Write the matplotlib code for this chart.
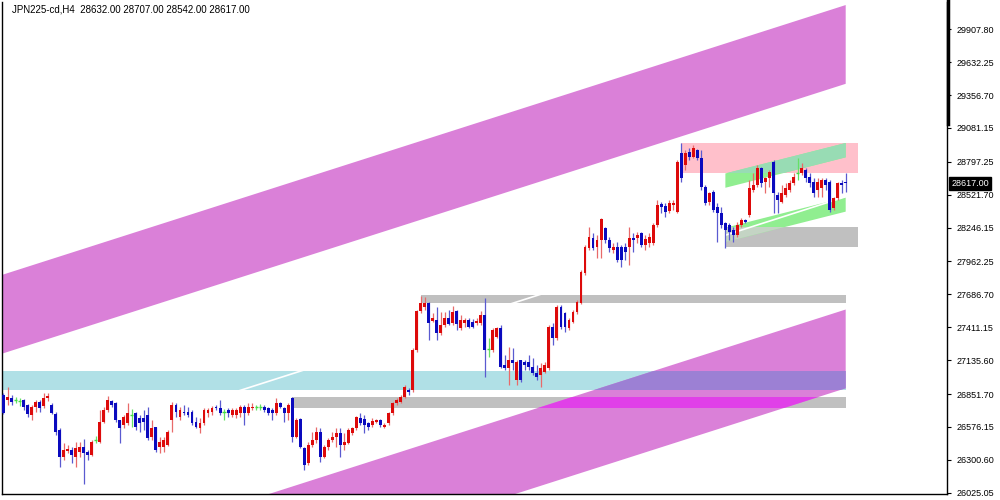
import matplotlib
matplotlib.use('Agg')
import matplotlib.pyplot as plt
from matplotlib.patches import Polygon, Rectangle
from matplotlib.lines import Line2D
import numpy as np

header = 'JPN225-cd,H4  28632.00 28707.00 28542.00 28617.00'

# H4 candles, oldest first
opens = [
    26843, 26801, 26818, 26801, 26793, 26801, 26759, 26675, 26742, 26784,
    26751, 26818, 26759, 26683, 26550, 26323, 26374, 26382, 26323, 26365,
    26407, 26365, 26340, 26466, 26449, 26617, 26717, 26793, 26776, 26633,
    26591, 26608, 26675, 26692, 26650, 26650, 26675, 26491, 26575, 26407,
    26407, 26424, 26633, 26759, 26658, 26700, 26700, 26700, 26617, 26566,
    26608, 26692, 26700, 26742, 26734, 26700, 26717, 26675, 26675, 26692,
    26742, 26692, 26734, 26742, 26742, 26742, 26734, 26717, 26692, 26776,
    26734, 26692, 26818, 26491, 26642, 26399, 26273, 26424, 26466, 26533,
    26323, 26407, 26466, 26491, 26524, 26424, 26441, 26524, 26566, 26650,
    26642, 26608, 26591, 26617, 26633, 26575, 26608, 26692, 26776, 26784,
    26826, 26885, 26885, 27220, 27547, 27580, 27614, 27463, 27471, 27362,
    27429, 27488, 27446, 27547, 27404, 27446, 27471, 27455, 27446, 27446,
    27513, 27228, 27220, 27329, 27404, 27094, 27069, 27136, 26969, 27136,
    27119, 27119, 27078, 27027, 27010, 27036, 27069, 27413, 27321, 27580,
    27530, 27404, 27455, 27538, 27614, 27865, 28075, 28159, 28083, 28142,
    28242, 28142, 28058, 28083, 28083, 28083, 28083, 28159, 28159, 28200,
    28100, 28117, 28117, 28268, 28443, 28427, 28385, 28435, 28376, 28871,
    28770, 28879, 28837, 28896, 28829, 28586, 28460, 28544, 28418, 28368,
    28284, 28268, 28226, 28184, 28268, 28309, 28351, 28561, 28603, 28745,
    28628, 28661, 28795, 28519, 28460, 28519, 28561, 28620, 28703, 28703,
    28728, 28670, 28628, 28561, 28578, 28645, 28628, 28410, 28494, 28620,
    28632]
highs = [
    26860, 26910, 26843, 26826, 26818, 26809, 26767, 26759, 26801, 26801,
    26860, 26860, 26776, 26700, 26566, 26441, 26424, 26407, 26449, 26449,
    26474, 26382, 26466, 26499, 26717, 26742, 26835, 26801, 26784, 26633,
    26675, 26776, 26726, 26700, 26675, 26717, 26742, 26633, 26575, 26491,
    26491, 26550, 26784, 26776, 26742, 26759, 26742, 26717, 26658, 26650,
    26734, 26734, 26751, 26759, 26801, 26726, 26734, 26734, 26734, 26759,
    26759, 26776, 26776, 26759, 26767, 26759, 26742, 26734, 26818, 26784,
    26742, 26776, 26826, 26650, 26650, 26407, 26449, 26533, 26575, 26566,
    26424, 26483, 26533, 26566, 26566, 26524, 26566, 26575, 26667, 26692,
    26675, 26617, 26650, 26642, 26642, 26608, 26700, 26784, 26818, 26843,
    26927, 26902, 27237, 27555, 27673, 27664, 27622, 27530, 27580, 27538,
    27538, 27555, 27589, 27555, 27513, 27488, 27488, 27480, 27488, 27547,
    27656, 27321, 27404, 27413, 27429, 27178, 27245, 27237, 27136, 27140,
    27136, 27178, 27153, 27094, 27111, 27119, 27429, 27446, 27597, 27597,
    27538, 27488, 27555, 27639, 27890, 28100, 28251, 28201, 28184, 28326,
    28251, 28167, 28117, 28125, 28100, 28117, 28251, 28201, 28209, 28209,
    28184, 28200, 28284, 28477, 28460, 28452, 28477, 28477, 28812, 28955,
    28896, 28913, 28938, 28904, 28896, 28603, 28544, 28561, 28452, 28418,
    28293, 28284, 28251, 28293, 28326, 28318, 28645, 28703, 28770, 28754,
    28670, 28728, 28812, 28544, 28603, 28620, 28645, 28703, 28829, 28787,
    28745, 28703, 28661, 28661, 28661, 28661, 28645, 28502, 28628, 28645,
    28707]
lows = [
    26683, 26759, 26759, 26776, 26751, 26717, 26658, 26633, 26700, 26700,
    26734, 26793, 26683, 26508, 26240, 26298, 26357, 26273, 26240, 26323,
    26097, 26298, 26332, 26441, 26441, 26608, 26700, 26742, 26617, 26441,
    26566, 26591, 26575, 26550, 26533, 26550, 26466, 26466, 26365, 26357,
    26365, 26416, 26533, 26658, 26633, 26675, 26658, 26591, 26566, 26524,
    26591, 26658, 26675, 26717, 26675, 26633, 26658, 26658, 26650, 26658,
    26591, 26675, 26717, 26717, 26717, 26700, 26675, 26633, 26675, 26734,
    26617, 26633, 26449, 26483, 26399, 26214, 26256, 26407, 26441, 26281,
    26315, 26382, 26449, 26407, 26323, 26382, 26432, 26508, 26550, 26591,
    26524, 26550, 26575, 26608, 26575, 26570, 26591, 26675, 26759, 26776,
    26818, 26843, 26868, 27203, 27530, 27555, 27304, 27455, 27304, 27346,
    27413, 27429, 27429, 27388, 27388, 27413, 27404, 27404, 27429, 27429,
    26994, 27161, 27203, 27321, 27069, 27052, 26927, 27052, 26927, 26952,
    27052, 27052, 27010, 26969, 26910, 27027, 27052, 27262, 27304, 27396,
    27371, 27388, 27446, 27522, 27606, 27849, 28058, 28058, 27991, 27991,
    28117, 28041, 28033, 27957, 27916, 27974, 27932, 28041, 28117, 28083,
    28058, 28083, 28100, 28251, 28368, 28335, 28368, 28393, 28368, 28628,
    28728, 28812, 28829, 28812, 28561, 28435, 28435, 28376, 28125, 28242,
    28075, 28142, 28125, 28167, 28251, 28284, 28335, 28544, 28586, 28586,
    28536, 28586, 28368, 28368, 28452, 28502, 28544, 28603, 28645, 28686,
    28628, 28586, 28502, 28502, 28502, 28561, 28376, 28393, 28477, 28536,
    28542]
closes = [
    26692, 26826, 26784, 26801, 26793, 26742, 26683, 26742, 26784, 26734,
    26818, 26835, 26692, 26533, 26323, 26382, 26390, 26340, 26399, 26407,
    26357, 26340, 26449, 26466, 26617, 26717, 26801, 26759, 26633, 26566,
    26658, 26692, 26675, 26575, 26608, 26617, 26483, 26566, 26382, 26449,
    26466, 26533, 26759, 26700, 26717, 26692, 26675, 26608, 26575, 26608,
    26717, 26717, 26734, 26734, 26692, 26700, 26692, 26717, 26717, 26742,
    26692, 26742, 26742, 26742, 26742, 26717, 26692, 26692, 26776, 26742,
    26692, 26759, 26491, 26633, 26407, 26256, 26424, 26466, 26533, 26323,
    26407, 26466, 26491, 26524, 26424, 26449, 26550, 26566, 26658, 26608,
    26591, 26575, 26625, 26633, 26591, 26591, 26692, 26776, 26801, 26826,
    26910, 26868, 27220, 27547, 27614, 27614, 27446, 27488, 27362, 27429,
    27488, 27438, 27538, 27438, 27471, 27471, 27413, 27413, 27463, 27513,
    27220, 27228, 27388, 27404, 27078, 27069, 27136, 27111, 27119, 26969,
    27094, 27078, 27027, 26994, 27069, 27094, 27413, 27321, 27580, 27413,
    27413, 27471, 27538, 27622, 27874, 28083, 28167, 28075, 28142, 28318,
    28142, 28075, 28083, 27974, 27974, 28041, 28159, 28142, 28184, 28100,
    28150, 28167, 28268, 28435, 28418, 28376, 28452, 28452, 28795, 28661,
    28871, 28837, 28913, 28829, 28586, 28452, 28536, 28393, 28368, 28268,
    28226, 28209, 28184, 28268, 28309, 28293, 28578, 28603, 28745, 28620,
    28661, 28712, 28536, 28477, 28536, 28578, 28620, 28670, 28703, 28745,
    28661, 28620, 28536, 28628, 28645, 28603, 28393, 28494, 28620, 28603,
    28617]

price_ticks = [29907.80, 29632.25, 29356.70, 29081.15, 28797.25, 28521.70,
               28246.15, 27962.25, 27686.70, 27411.15, 27135.60, 26851.70,
               26576.15, 26300.60, 26025.05]
last_price = 28617.00

# drawn objects (bar index, price)
chan_x = [-5, 210]
chan_top = [27800, 30111]          # upper edge of the big channel
chan_offsets = [0, 660, 1606, 2551, 3211]
green_x = [180, 210]
green_top = [28700, 28955]
green_offsets = [0, 120, 455, 575]
cyan_box = (-5, 210, 26885, 27044)
gray_boxes = [(72, 210, 26734, 26826), (104, 210, 27614, 27681), (180, 213, 28083, 28251)]
pink_box = (169, 213, 28703, 28955)

n = len(closes)
assert len(opens) == len(highs) == len(lows) == n

fam = ['Liberation Sans Narrow', 'Liberation Sans', 'DejaVu Sans']

fig = plt.figure(figsize=(10, 5), dpi=100)
ax = fig.add_axes([0.002, 0.012, 0.945, 0.984])
ax.set_xlim(-0.374, 235.26)
ax.set_ylim(26014.1, 30136.5)


def band(x, top, off0, off1, **kw):
    pts = [(x[0], top[0] - off0), (x[1], top[1] - off0),
           (x[1], top[1] - off1), (x[0], top[0] - off1)]
    p = Polygon(pts, closed=True, lw=0, **kw)
    ax.add_patch(p)
    return p


def box(b, **kw):
    r = Rectangle((b[0], b[2]), b[1] - b[0], b[3] - b[2], lw=0, **kw)
    ax.add_patch(r)
    return r


cyan_r = box(cyan_box, fc='#B0E0E6', zorder=1)
gray_r = [box(g, fc='#C0C0C0', zorder=1) for g in gray_boxes]
pink_r = box(pink_box, fc='#FFC0CB', zorder=1)

band(chan_x, chan_top, chan_offsets[0], chan_offsets[1], fc='#DA80D8', zorder=1.5)
band(chan_x, chan_top, chan_offsets[3], chan_offsets[4], fc='#DA80D8', zorder=1.5)
p = band(chan_x, chan_top, chan_offsets[3], chan_offsets[4], fc='#9C80D4', zorder=1.6)
p.set_clip_path(cyan_r)
p = band(chan_x, chan_top, chan_offsets[3], chan_offsets[4], fc='#E040E8', zorder=1.6)
p.set_clip_path(gray_r[0])

band(green_x, green_top, green_offsets[0], green_offsets[1], fc='#90EE90', zorder=1.5)
band(green_x, green_top, green_offsets[2], green_offsets[3], fc='#90EE90', zorder=1.5)
p = band(green_x, green_top, green_offsets[0], green_offsets[1], fc='#98DCB4', zorder=1.6)
p.set_clip_path(pink_r)
p = band(green_x, green_top, green_offsets[2], green_offsets[3], fc='#C4D4C4', zorder=1.6)
p.set_clip_path(gray_r[2])

# white middle line of the channel
mid = [t - chan_offsets[2] for t in chan_top]
ax.plot(chan_x, mid, color='white', lw=1.2, zorder=2)

# candles
for i in range(n):
    o, h, l, c = opens[i], highs[i], lows[i], closes[i]
    if c > o:
        bc, wc = '#DD0A0A', '#E86A6A'
    elif c < o:
        bc, wc = '#0A0ABE', '#5A5AD0'
    else:
        bc, wc = '#44DD44', '#66E066'
    ax.vlines(i, l, h, color=wc, lw=0.9, zorder=3)
    if c == o:
        ax.hlines(c, i - 0.4, i + 0.4, color=bc, lw=1.0, zorder=4)
    else:
        lo = min(o, c)
        hgt = max(abs(c - o), 9)
        ax.add_patch(Rectangle((i - 0.36, lo), 0.72, hgt, fc=bc, ec='none', zorder=4))

for s in ['top']:
    ax.spines[s].set_visible(False)
for s in ['left', 'bottom', 'right']:
    ax.spines[s].set_color('black')
    ax.spines[s].set_linewidth(1)
ax.set_xticks([])
ax.yaxis.tick_right()
ax.set_yticks(price_ticks)
ax.set_yticklabels(['%.2f' % v for v in price_ticks])
ax.tick_params(axis='y', direction='out', length=3, width=0.8, pad=4,
               labelsize=6.5, colors='black')
for t in ax.get_yticklabels():
    t.set_fontfamily(fam)

ax.annotate('%.2f' % last_price, xy=(1.0, last_price),
            xycoords=('axes fraction', 'data'), xytext=(3, 0),
            textcoords='offset points', ha='left', va='center',
            color='white', fontsize=6.5, family=fam,
            bbox=dict(boxstyle='square,pad=0.2', fc='black', ec='black'))

fig.add_artist(Line2D([0.948, 0.948], [1 - 124 / 500, 1.0], lw=2.5,
                      color='black', transform=fig.transFigure))
fig.text(0.012, 1 - 10 / 500, header, fontsize=7, family=fam, va='center', ha='left')

fig.savefig('out.png', dpi=100)
